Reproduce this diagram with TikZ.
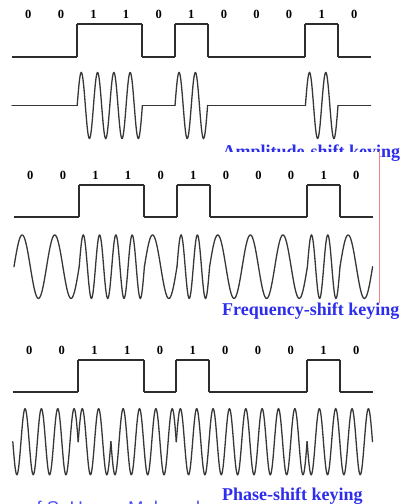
\documentclass[tikz,border=0pt]{standalone}
\usepackage{fontspec}
\setmainfont{Liberation Serif}
\newfontfamily\labsans{Liberation Sans}
\definecolor{lblblue}{RGB}{45,45,235}
\definecolor{lightblue}{RGB}{80,80,250}
\definecolor{sqcol}{RGB}{45,45,45}
\definecolor{wvcol}{RGB}{55,55,55}
\definecolor{edgered}{RGB}{240,130,130}
\begin{document}
\begin{tikzpicture}[x=1pt,y=-1pt,
  sq/.style={draw=sqcol,line width=1.9pt},
  wv/.style={draw=wvcol,line width=1.3pt,line cap=round},
  bitlabel/.style={font=\bfseries\fontsize{12.5}{14}\selectfont,inner sep=0pt},
  keying/.style={font=\bfseries\fontsize{18}{20}\selectfont,text=lblblue,anchor=base west,inner sep=0pt}]
\clip (0,0) rectangle (403,504);
\fill[white] (0,0) rectangle (403,504);

% ---------------- Panel 1 : ASK ----------------
\foreach \b [count=\i from 0] in {0,0,1,1,0,1,0,0,0,1,0} {
  \pgfmathsetmacro\xa{12+\i*32.6}
  \pgfmathsetmacro\xm{\xa+16.3}
  \pgfmathsetmacro\xb{\xa+32.6}
  \pgfmathsetmacro\lev{57-33*\b}
  \pgfmathsetmacro\kk{720/32.6}
  \node[bitlabel] (a\i) at (\xm,14) {\b};
  \draw[sq] (\xa,\lev) -- (\xb,\lev);
  \draw[wv] plot[domain=\xa:\xb, samples=80] (\x, {105.5-33*\b*sin(\kk*(\x-\xa))});
}
\foreach \xx in {77.2,142.4,175.0,207.6,305.4,338.0} {
  \draw[sq] (\xx,24) -- (\xx,57);
}
\begin{scope}
  \clip (0,0) rectangle (379,151) (379,0) rectangle (403,504);
  \node[keying] (askl) at (222.5,157.5) {Amplitude-shift keying};
\end{scope}

% edge of the second picture
\draw[edgered,line width=0.8pt] (379.3,151) -- (379.3,303);

% ---------------- Panel 2 : FSK ----------------
\foreach \b [count=\i from 0] in {0,0,1,1,0,1,0,0,0,1,0} {
  \pgfmathsetmacro\xa{14+\i*32.6}
  \pgfmathsetmacro\xm{\xa+16.3}
  \pgfmathsetmacro\xb{\xa+32.6}
  \pgfmathsetmacro\lev{217-32*\b}
  \pgfmathsetmacro\kk{360*(1+\b)/32.6}
  \node[bitlabel] (f\i) at (\xm,175.5) {\b};
  \draw[sq] (\xa,\lev) -- (\xb,\lev);
  \draw[wv] plot[domain=\xa:\xb, samples=80] (\x, {266.7-31.7*sin(\kk*(\x-\xa))});
}
\foreach \xx in {79.2,144.4,177.0,209.6,307.4,340.0} {
  \draw[sq] (\xx,185) -- (\xx,217);
}
\node[keying] (fskl) at (222,315) {Frequency-shift keying};

% ---------------- Panel 3 : PSK ----------------
\foreach \b/\s [count=\i from 0] in {0/1,0/1,1/-1,1/1,0/1,1/-1,0/-1,0/-1,0/-1,1/1,0/1} {
  \pgfmathsetmacro\xa{12.8+\i*32.7}
  \pgfmathsetmacro\xm{\xa+16.35}
  \pgfmathsetmacro\xb{\xa+32.7}
  \pgfmathsetmacro\lev{392-32*\b}
  \pgfmathsetmacro\kk{720/32.7}
  \node[bitlabel] (p\i) at (\xm,350.5) {\b};
  \draw[sq] (\xa,\lev) -- (\xb,\lev);
  \draw[wv] plot[domain=\xa:\xb, samples=80] (\x, {441.7+33*\s*sin(\kk*(\x-\xa))});
}
\foreach \xx in {78.2,143.6,176.3,209.0,307.1,339.8} {
  \draw[sq] (\xx,360) -- (\xx,392);
}
\node[keying] (pskl) at (222,500) {Phase-shift keying};

% credit line, cut by the lower edge as in the reference
\node[font=\labsans\fontsize{18.5}{20}\selectfont,text=lightblue,anchor=base west,inner sep=0pt] (credit) at (-53,514) {Courtesy of S. Hasan Mahmud};
\end{tikzpicture}
\end{document}
